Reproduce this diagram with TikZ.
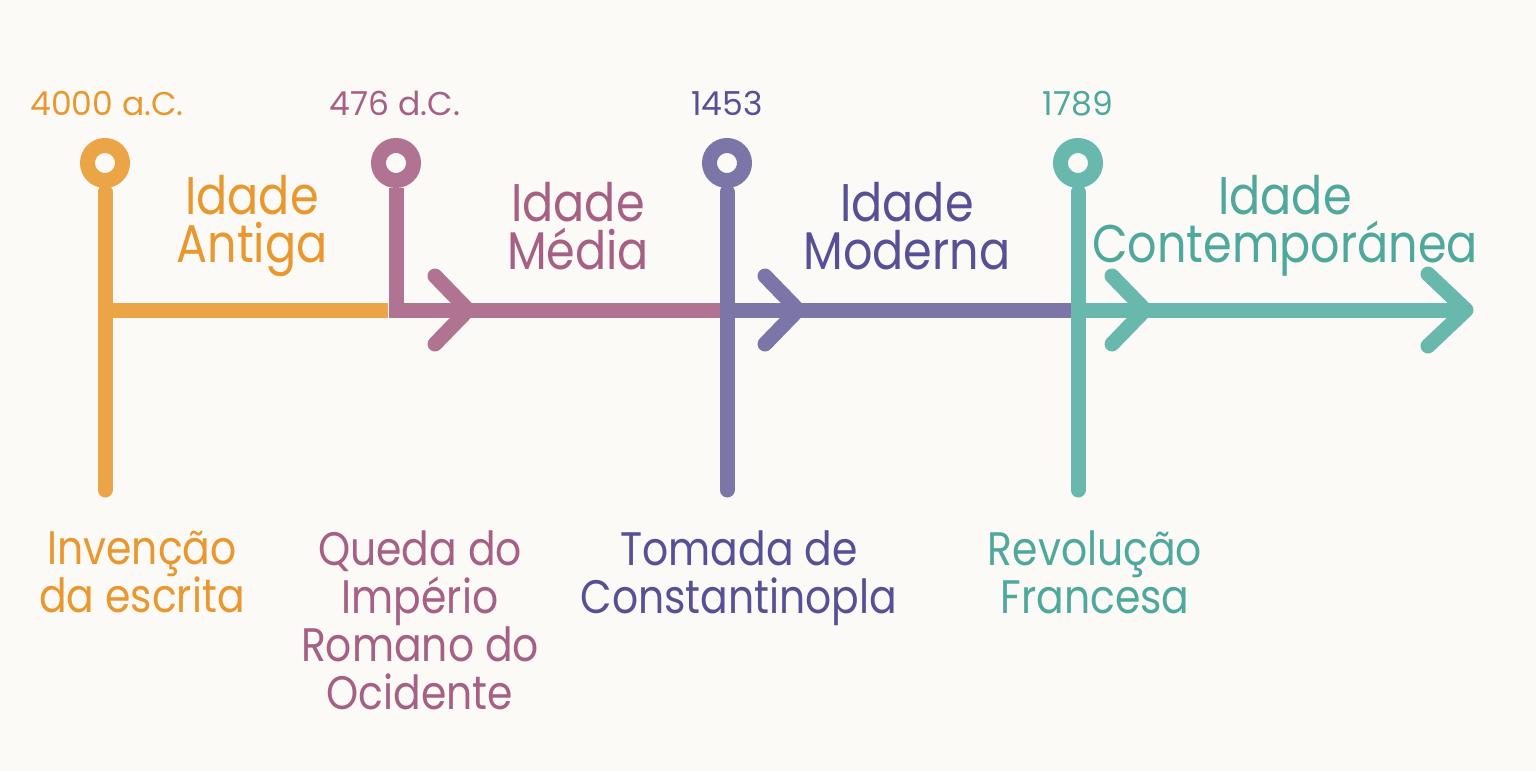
\documentclass[tikz,border=0pt]{standalone}
\usepackage{fontspec}
\setmainfont{Poppins}[FakeStretch=0.87]
\newfontfamily\anofont{Poppins}
\usetikzlibrary{positioning, arrows.meta, calc}
\definecolor{paper}{RGB}{252,250,246}
\definecolor{antigaline}{RGB}{236,165,70}
\definecolor{antigatext}{RGB}{233,152,48}
\definecolor{medialine}{RGB}{176,116,146}
\definecolor{mediatext}{RGB}{166,96,132}
\definecolor{modernaline}{RGB}{124,118,168}
\definecolor{modernatext}{RGB}{88,80,150}
\definecolor{contline}{RGB}{105,184,173}
\definecolor{conttext}{RGB}{78,168,155}

\begin{document}
\begin{tikzpicture}[x=0.5pt, y=-0.5pt,
    bar/.style={line width=7.5pt},
    stem/.style={line width=7.5pt, line cap=round, shorten <=2pt},
    seta/.style={line width=7.5pt, line cap=round, line join=round},
    marco/.style={circle, draw=#1, line width=7.5pt, fill=paper, minimum size=17.5pt, inner sep=0pt},
    ano/.style={font=\anofont\fontsize{16.5}{18}\selectfont, anchor=base},
    idade/.style={font=\fontsize{26.5}{24}\selectfont, align=center},
    evento/.style={font=\fontsize{23.5}{24}\selectfont, align=center, anchor=north}]

    % fundo
    \fill[paper] (0,0) rectangle (1536,771);
    \useasboundingbox (0,0) rectangle (1536,771);

    % marcos
    \node[marco=antigaline] (m1) at (105,163) {};
    \node[marco=medialine] (m2) at (396,163) {};
    \node[marco=modernaline] (m3) at (727,163) {};
    \node[marco=contline] (m4) at (1078,163) {};

    % eixo
    \coordinate (e1) at (105,310);
    \coordinate (e2) at (396,310);
    \coordinate (e3) at (727,310);
    \coordinate (e4) at (1078,310);
    \coordinate (fim) at (1466,310);
    \coordinate (c2) at (468,310);
    \coordinate (c3) at (798,310);
    \coordinate (c4) at (1145,310);

    \coordinate (b1) at (105,490);
    \coordinate (b3) at (727,490);
    \coordinate (b4) at (1078,490);

    \draw[bar, antigaline] (e1) -- ($(e2)+(-8,0)$);
    \draw[bar, medialine] (m2.south) |- (e3);
    \draw[bar, modernaline] (e3) -- (e4);
    \draw[bar, contline] (e4) -- (fim);

    % setas
    \draw[seta, medialine] ($(c2)+(-33,-34)$) -- (c2) -- ($(c2)+(-33,34)$);
    \draw[seta, modernaline] ($(c3)+(-33,-34)$) -- (c3) -- ($(c3)+(-33,34)$);
    \draw[seta, contline] ($(c4)+(-33,-34)$) -- (c4) -- ($(c4)+(-33,34)$);
    \draw[seta, contline] ($(fim)+(-38,-36)$) -- (fim) -- ($(fim)+(-38,36)$);

    \draw[stem, antigaline] (m1.south) -- (b1);
    \draw[stem, modernaline] (m3.south) -- (b3);
    \draw[stem, contline] (m4.south) -- (b4);

    % anos
    \node[ano, antigatext] (a1) at (107,115) {4000 a.C.};
    \node[ano, mediatext] (a2) at (395,115) {476 d.C.};
    \node[ano, modernatext] (a3) at (727,115) {1453};
    \node[ano, conttext] (a4) at (1078,115) {1789};

    % idades
    \node[idade, antigatext] (t1) at (252,226) {Idade\\Antiga};
    \node[idade, mediatext] (t2) at (578,226) {Idade\\Média};
    \node[idade, modernatext] (t3) at (907,226) {Idade\\Moderna};
    \node[idade, conttext] (t4) at (1285,226) {Idade\\Contemporánea};

    % eventos
    \node[evento, antigatext] (v1) at (142,524) {Invenção\\da escrita};
    \node[evento, mediatext] (v2) at (420,524) {Queda do\\Império\\Romano do\\Ocidente};
    \node[evento, modernatext] (v3) at (739,524) {Tomada de\\Constantinopla};
    \node[evento, conttext] (v4) at (1095,524) {Revolução\\Francesa};

\end{tikzpicture}
\end{document}
